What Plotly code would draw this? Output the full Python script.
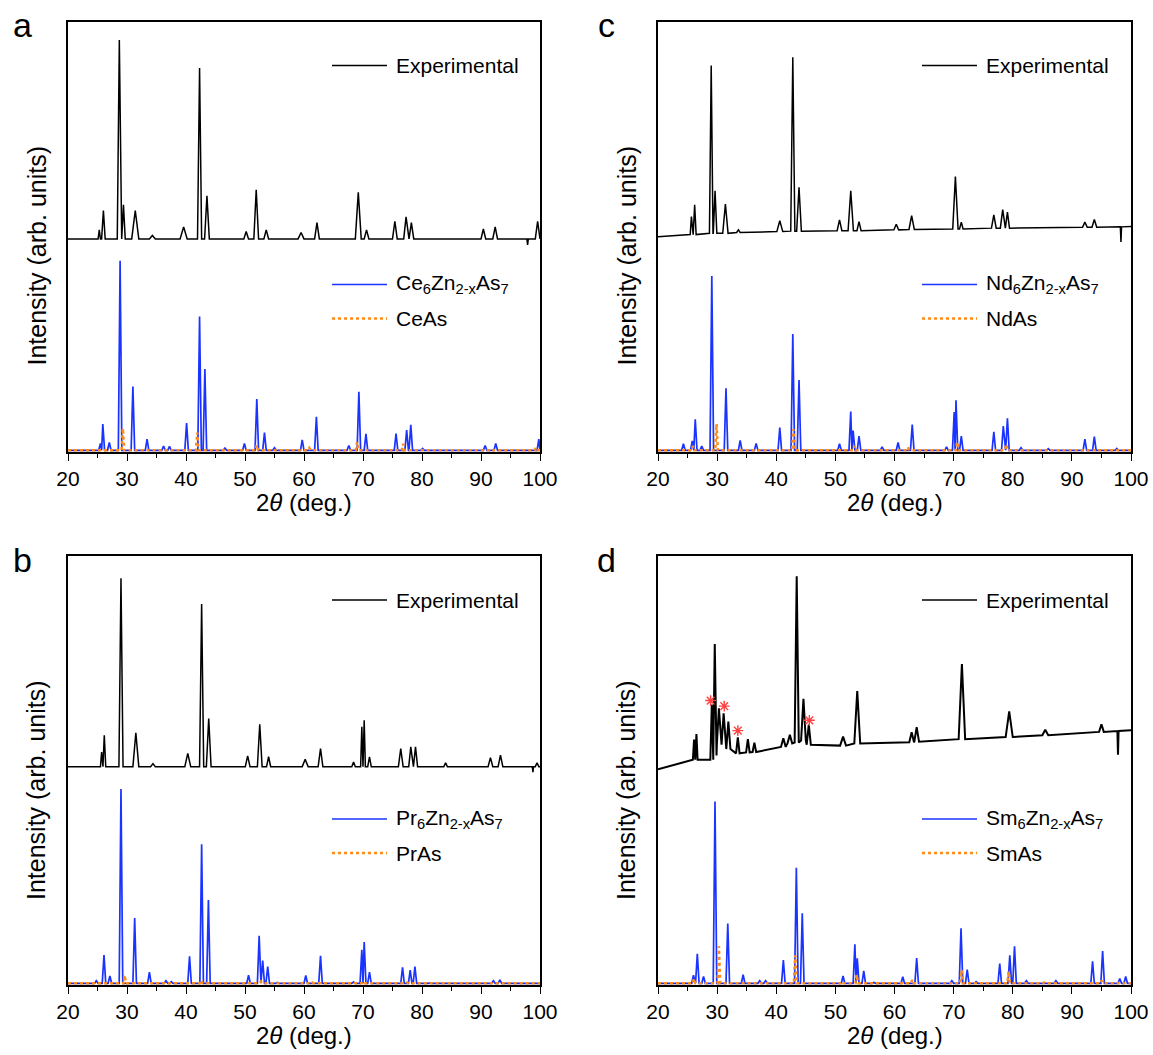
import plotly.graph_objects as go

W, H = 1153, 1055
FONT = "Liberation Sans, Arial, sans-serif"
BLACK = "#000000"
BLUE = "#1a33ff"
ORANGE = "#ff8c1a"
RED = "#ff4040"

tick_vals = [20, 30, 40, 50, 60, 70, 80, 90, 100]
tick_text = ["20", "30", "40", "50", "60", "70", "80", "90", "100"]

# ---------------- panel a : Ce ----------------
a_exp_x = [25.3, 26.0, 28.7, 29.4, 31.4, 34.3, 39.6, 42.3, 43.55, 50.2, 51.9, 53.6, 59.5, 62.2,
           69.2, 70.6, 75.4, 77.3, 78.2, 90.4, 92.4, 97.9, 99.6]
a_exp_y = [51.6, 56.1, 95.7, 57.4, 56.1, 50.3, 52.3, 89.2, 59.5, 51.2, 60.9, 51.6, 51.0, 53.3,
           60.3, 51.6, 53.6, 54.6, 53.3, 51.8, 52.3, 48.1, 53.6]
a_exp_w = [0.2, 0.3, 0.35, 0.3, 0.6, 0.5, 0.6, 0.35, 0.4, 0.4, 0.4, 0.4, 0.5, 0.4,
           0.5, 0.4, 0.4, 0.4, 0.4, 0.4, 0.4, 0.12, 0.4]
a_exp_base = 49.5

a_sim_x = [25.5, 25.9, 27.0, 28.83, 31.0, 33.4, 36.2, 37.2, 40.1, 42.3, 43.2, 46.6, 49.9, 52.0,
           53.3, 55.0, 59.7, 62.1, 67.6, 69.3, 70.5, 75.6, 77.4, 78.1, 80.1, 90.7, 92.5, 99.8]
a_sim_y = [2.0, 6.5, 2.2, 44.4, 15.2, 3.0, 1.4, 1.3, 6.7, 31.5, 19.3, 0.9, 2.0, 12.3,
           4.5, 1.0, 2.8, 8.2, 1.5, 14.0, 4.2, 4.3, 5.1, 6.3, 0.8, 1.5, 2.0, 3.0]
a_bin_x = [29.3, 41.9, 52.0, 60.9, 69.0, 76.8, 91.6, 99.3]
a_bin_y = [5.5, 4.5, 1.6, 0.9, 2.3, 1.9, 0.6, 1.0]

# ---------------- panel b : Pr ----------------
b_exp_x = [25.7, 26.15, 28.98, 31.5, 34.4, 40.3, 42.65, 43.85, 50.45, 52.5, 54.0, 60.2, 62.8,
           68.4, 69.8, 70.2, 71.1, 76.4, 78.1, 78.9, 84.0, 91.6, 93.3, 98.8, 99.5]
b_exp_y = [54.3, 58.2, 94.8, 58.8, 51.6, 54.0, 88.8, 62.1, 53.4, 60.8, 53.2, 52.6, 55.1,
           52.0, 60.2, 61.7, 53.2, 55.1, 55.5, 55.5, 51.8, 53.0, 53.6, 49.6, 51.8]
b_exp_w = [0.2, 0.25, 0.35, 0.5, 0.4, 0.5, 0.35, 0.4, 0.4, 0.4, 0.35, 0.5, 0.4,
           0.3, 0.2, 0.2, 0.3, 0.4, 0.35, 0.35, 0.3, 0.4, 0.4, 0.1, 0.3]
b_exp_base = 50.9

b_sim_x = [24.8, 26.1, 27.1, 28.98, 31.3, 33.8, 36.6, 37.5, 40.6, 42.65, 43.8, 50.6, 52.4, 53.0,
           53.85, 55.5, 60.3, 62.8, 68.4, 69.8, 70.2, 71.1, 76.7, 78.0, 78.8, 81.4, 92.1, 93.2]
b_sim_y = [1.0, 7.0, 2.1, 45.7, 15.6, 3.0, 1.0, 0.8, 6.7, 32.8, 19.8, 2.3, 11.5, 5.7,
           4.3, 0.6, 2.2, 6.8, 0.7, 8.2, 10.0, 3.0, 4.1, 3.5, 4.3, 0.5, 1.0, 1.2]
b_bin_x = [29.6, 42.6, 52.7, 61.4, 70.0, 77.5, 92.8]
b_bin_y = [2.3, 1.1, 0.8, 0.6, 0.8, 0.6, 0.5]

# ---------------- panel c : Nd ----------------
c_exp_x = [25.65, 26.2, 29.0, 29.65, 31.4, 33.6, 40.6, 42.8, 43.85, 50.7, 52.6, 54.0, 60.3,
           62.9, 70.3, 71.3, 76.8, 78.3, 79.1, 92.2, 93.8, 98.3]
c_exp_y = [54.7, 57.4, 89.8, 60.7, 57.6, 51.6, 53.7, 91.7, 61.5, 53.9, 60.7, 53.5, 52.9,
           54.9, 64.0, 53.4, 55.1, 56.3, 55.7, 53.4, 54.0, 48.8]
c_exp_w = [0.2, 0.25, 0.3, 0.3, 0.45, 0.3, 0.5, 0.35, 0.4, 0.4, 0.45, 0.35, 0.4,
           0.45, 0.45, 0.3, 0.4, 0.4, 0.35, 0.4, 0.4, 0.1]
c_exp_foot = [50.5, 50.5, 50.8, 50.8, 50.8, 51.0, 51.2, 51.3, 51.3, 51.4, 51.4, 51.4, 51.6,
              51.7, 51.8, 51.8, 52.0, 52.0, 52.0, 52.2, 52.2, 52.3]
c_exp_ends = [50.0, 52.4]

c_sim_x = [24.3, 25.8, 26.3, 27.4, 29.1, 31.5, 33.9, 36.6, 40.6, 42.8, 43.85, 50.7, 52.6, 53.0,
           54.0, 57.9, 60.6, 63.0, 68.8, 70.1, 70.4, 71.3, 76.8, 78.4, 79.1, 81.4, 86.0, 92.2,
           93.8, 97.6]
c_sim_y = [1.9, 2.6, 7.6, 1.4, 40.9, 14.8, 2.7, 2.0, 5.7, 27.4, 16.7, 1.9, 9.4, 5.0,
           3.7, 1.2, 2.2, 6.4, 1.2, 9.3, 12.0, 3.7, 4.7, 6.0, 7.8, 1.0, 0.8, 3.0,
           3.6, 0.8]
c_bin_x = [25.9, 29.9, 42.9, 53.2, 62.3, 70.6, 78.9, 94.2]
c_bin_y = [1.4, 6.5, 5.3, 1.4, 1.0, 2.3, 1.8, 0.6]

# ---------------- panel d : Sm ----------------
d_exp_x = [26.1, 26.5, 29.1, 29.6, 30.3, 31.1, 31.9, 33.5, 35.2, 36.3, 41.2, 42.3, 43.46,
           44.6, 45.5, 51.3, 53.7, 62.9, 63.75, 71.4, 79.4, 85.5, 95.0, 97.8]
d_exp_y = [57.2, 58.5, 65.4, 79.5, 64.5, 63.3, 61.4, 57.7, 57.3, 56.5, 57.5, 58.3, 95.3,
           66.7, 60.7, 57.9, 68.5, 58.9, 60.1, 74.8, 63.8, 59.5, 60.8, 53.7]
d_exp_w = [0.2, 0.2, 0.25, 0.3, 0.35, 0.35, 0.35, 0.3, 0.3, 0.3, 0.4, 0.4, 0.35,
           0.4, 0.35, 0.5, 0.5, 0.4, 0.4, 0.55, 0.6, 0.5, 0.4, 0.1]
d_exp_foot = [52.5, 52.5, 52.5, 53.5, 56.0, 56.0, 55.0, 54.0, 54.2, 54.3, 55.5, 56.3, 56.5,
              57.0, 56.0, 55.8, 56.3, 56.6, 56.7, 57.3, 57.8, 58.2, 59.0, 59.2]
d_exp_ends = [50.3, 59.4]

d_sim_x = [26.0, 26.65, 27.7, 29.64, 31.8, 34.4, 37.2, 38.2, 41.2, 43.4, 44.4, 51.3, 53.3, 53.7,
           54.8, 56.5, 61.4, 63.75, 69.7, 71.25, 72.3, 73.8, 77.8, 79.5, 80.3, 82.3, 87.3,
           93.5, 95.2, 98.1, 99.1]
d_sim_y = [2.3, 7.3, 2.0, 42.8, 14.3, 2.4, 1.0, 1.0, 5.8, 27.3, 16.7, 2.1, 9.5, 6.2,
           3.3, 0.6, 1.9, 6.3, 1.0, 13.2, 3.6, 0.8, 5.0, 6.9, 9.0, 1.0, 1.0,
           5.5, 7.9, 1.5, 2.0]
d_bin_x = [26.1, 30.3, 43.2, 51.1, 53.6, 63.0, 71.35, 79.3, 85.3, 95.0]
d_bin_y = [1.5, 9.0, 6.9, 0.8, 2.4, 1.2, 3.4, 3.2, 0.6, 1.0]

d_star_x = [28.9, 31.2, 33.5, 45.6]
d_star_y = [66.3, 65.0, 59.3, 61.7]

SIM_BASE = 0.4
SIM_W = 0.3
BIN_W = 0.22

sim_names = [
    "Ce<sub>6</sub>Zn<sub>2-x</sub>As<sub>7</sub>",
    "Pr<sub>6</sub>Zn<sub>2-x</sub>As<sub>7</sub>",
    "Nd<sub>6</sub>Zn<sub>2-x</sub>As<sub>7</sub>",
    "Sm<sub>6</sub>Zn<sub>2-x</sub>As<sub>7</sub>",
]
bin_names = ["CeAs", "PrAs", "NdAs", "SmAs"]


def profile(xs, ys, widths, foot, start, end):
    """Build the drawn line from a list of peaks (position, top, half width, foot level)."""
    n = len(xs)
    if not isinstance(widths, list):
        widths = [widths] * n
    if not isinstance(foot, list):
        foot = [foot] * n
    X, Y = [20.0], [start]
    for i in range(n):
        wl = widths[i]
        wr = widths[i]
        if i > 0:
            wl = min(wl, (xs[i] - xs[i - 1]) / 2)
        if i < n - 1:
            wr = min(wr, (xs[i + 1] - xs[i]) / 2)
        wr = min(wr, 100 - xs[i])
        X += [xs[i] - wl, xs[i], xs[i] + wr]
        Y += [foot[i], ys[i], foot[i]]
    X.append(100.0)
    Y.append(end)
    return X, Y


def fx(px):
    return px / W


def fy(py):
    return 1 - py / H


# layout geometry (pixels)
LEFT = (68, 540)
RIGHT = (658, 1131)
TOP = (21.5, 452)
BOT = (556, 985)

panels = {
    "a": ("x", "y", LEFT, TOP),
    "c": ("x2", "y2", RIGHT, TOP),
    "b": ("x3", "y3", LEFT, BOT),
    "d": ("x4", "y4", RIGHT, BOT),
}

series = {
    "a": dict(exp=profile(a_exp_x, a_exp_y, a_exp_w, a_exp_base, a_exp_base, a_exp_base),
              sim=profile(a_sim_x, a_sim_y, SIM_W, SIM_BASE, SIM_BASE, SIM_BASE),
              bin=profile(a_bin_x, a_bin_y, BIN_W, SIM_BASE, SIM_BASE, SIM_BASE),
              sim_name=sim_names[0], bin_name=bin_names[0], ew=1.5),
    "b": dict(exp=profile(b_exp_x, b_exp_y, b_exp_w, b_exp_base, b_exp_base, b_exp_base),
              sim=profile(b_sim_x, b_sim_y, SIM_W, SIM_BASE, SIM_BASE, SIM_BASE),
              bin=profile(b_bin_x, b_bin_y, BIN_W, SIM_BASE, SIM_BASE, SIM_BASE),
              sim_name=sim_names[1], bin_name=bin_names[1], ew=1.5),
    "c": dict(exp=profile(c_exp_x, c_exp_y, c_exp_w, c_exp_foot, c_exp_ends[0], c_exp_ends[1]),
              sim=profile(c_sim_x, c_sim_y, SIM_W, SIM_BASE, SIM_BASE, SIM_BASE),
              bin=profile(c_bin_x, c_bin_y, BIN_W, SIM_BASE, SIM_BASE, SIM_BASE),
              sim_name=sim_names[2], bin_name=bin_names[2], ew=1.5),
    "d": dict(exp=profile(d_exp_x, d_exp_y, d_exp_w, d_exp_foot, d_exp_ends[0], d_exp_ends[1]),
              sim=profile(d_sim_x, d_sim_y, SIM_W, SIM_BASE, SIM_BASE, SIM_BASE),
              bin=profile(d_bin_x, d_bin_y, BIN_W, SIM_BASE, SIM_BASE, SIM_BASE),
              sim_name=sim_names[3], bin_name=bin_names[3], ew=2.0),
}

fig = go.Figure()
annotations = []
shapes = []
layout_axes = {}

for key in ["a", "c", "b", "d"]:
    xa, ya, xpix, ypix = panels[key]
    s = series[key]
    ex, ey = s["exp"]
    sx, sy = s["sim"]
    bx, by = s["bin"]
    fig.add_trace(go.Scatter(x=ex, y=ey, mode="lines", xaxis=xa, yaxis=ya,
                             line=dict(color=BLACK, width=s["ew"]), name="Experimental",
                             showlegend=False, hoverinfo="skip"))
    fig.add_trace(go.Scatter(x=sx, y=sy, mode="lines", xaxis=xa, yaxis=ya,
                             line=dict(color=BLUE, width=1.7), name=s["sim_name"],
                             showlegend=False, hoverinfo="skip"))
    fig.add_trace(go.Scatter(x=bx, y=by, mode="lines", xaxis=xa, yaxis=ya,
                             line=dict(color=ORANGE, width=2.6, dash="dot"), name=s["bin_name"],
                             showlegend=False, hoverinfo="skip"))
    if key == "d":
        fig.add_trace(go.Scatter(x=d_star_x, y=d_star_y, mode="markers", xaxis=xa, yaxis=ya,
                                 marker=dict(symbol="asterisk-open", size=9, color=RED,
                                             line=dict(color=RED, width=1.4)),
                                 showlegend=False, hoverinfo="skip"))

    xn = "xaxis" if xa == "x" else "xaxis" + xa[1:]
    yn = "yaxis" if ya == "y" else "yaxis" + ya[1:]
    layout_axes[xn] = dict(
        domain=[fx(xpix[0]), fx(xpix[1])], range=[20, 100], anchor=ya,
        tickmode="array", tickvals=tick_vals, ticktext=tick_text,
        ticks="outside", ticklen=7, tickwidth=1.4, tickcolor=BLACK,
        minor=dict(tickvals=[25, 35, 45, 55, 65, 75, 85, 95], ticks="outside",
                   ticklen=4, tickwidth=1.2, tickcolor=BLACK),
        showline=True, linecolor=BLACK, linewidth=1.5, mirror=True,
        showgrid=False, zeroline=False, ticklabelstandoff=0, automargin=False,
        tickfont=dict(family=FONT, size=21, color=BLACK),
    )
    layout_axes[yn] = dict(
        domain=[fy(ypix[1]), fy(ypix[0])], range=[0, 100], anchor=xa,
        showticklabels=False, ticks="", showgrid=False, zeroline=False, automargin=False,
        showline=True, linecolor=BLACK, linewidth=1.5, mirror=True,
    )

    x0, x1 = xpix
    y0, y1 = ypix
    # axis titles
    annotations.append(dict(text="2<i>θ</i> (deg.)", xref="paper", yref="paper",
                            x=fx((x0 + x1) / 2), y=fy(y1 + 50), xanchor="center", yanchor="middle",
                            showarrow=False, font=dict(family=FONT, size=24, color=BLACK)))
    annotations.append(dict(text="Intensity (arb. units)", xref="paper", yref="paper",
                            x=fx(x0 - 32), y=fy(y0 + 234), xanchor="center", yanchor="middle",
                            textangle=-90, showarrow=False,
                            font=dict(family=FONT, size=25, color=BLACK)))
    # panel letter
    lx = 22 if x0 < 300 else 606
    annotations.append(dict(text=key, xref="paper", yref="paper",
                            x=fx(lx), y=fy(y0 + 4), xanchor="center", yanchor="middle",
                            showarrow=False, font=dict(family=FONT, size=34, color=BLACK)))
    # legend blocks
    lx0 = x0 + 264
    lx1 = x0 + 319
    tx = x0 + 326
    items = [
        (y0 + 44, BLACK, "solid", 1.5, "Experimental"),
        (y0 + 263, BLUE, "solid", 1.7, s["sim_name"]),
        (y0 + 297, ORANGE, "dot", 2.6, s["bin_name"]),
    ]
    for (ly, col, dash, lw, txt) in items:
        shapes.append(dict(type="line", xref="paper", yref="paper",
                           x0=fx(lx0), x1=fx(lx1), y0=fy(ly), y1=fy(ly),
                           line=dict(color=col, width=lw, dash=dash)))
        annotations.append(dict(text=txt, xref="paper", yref="paper",
                                x=fx(tx), y=fy(ly), xanchor="left", yanchor="middle",
                                showarrow=False, font=dict(family=FONT, size=21, color=BLACK)))

fig.update_layout(
    width=W, height=H, autosize=False,
    margin=dict(l=0, r=0, t=0, b=0, pad=0, autoexpand=False),
    paper_bgcolor="white", plot_bgcolor="white",
    showlegend=False,
    annotations=annotations, shapes=shapes,
    font=dict(family=FONT, color=BLACK),
    **layout_axes,
)

fig.write_html("out.html", config={"displayModeBar": False},
               post_script="document.body.style.margin='0';")
